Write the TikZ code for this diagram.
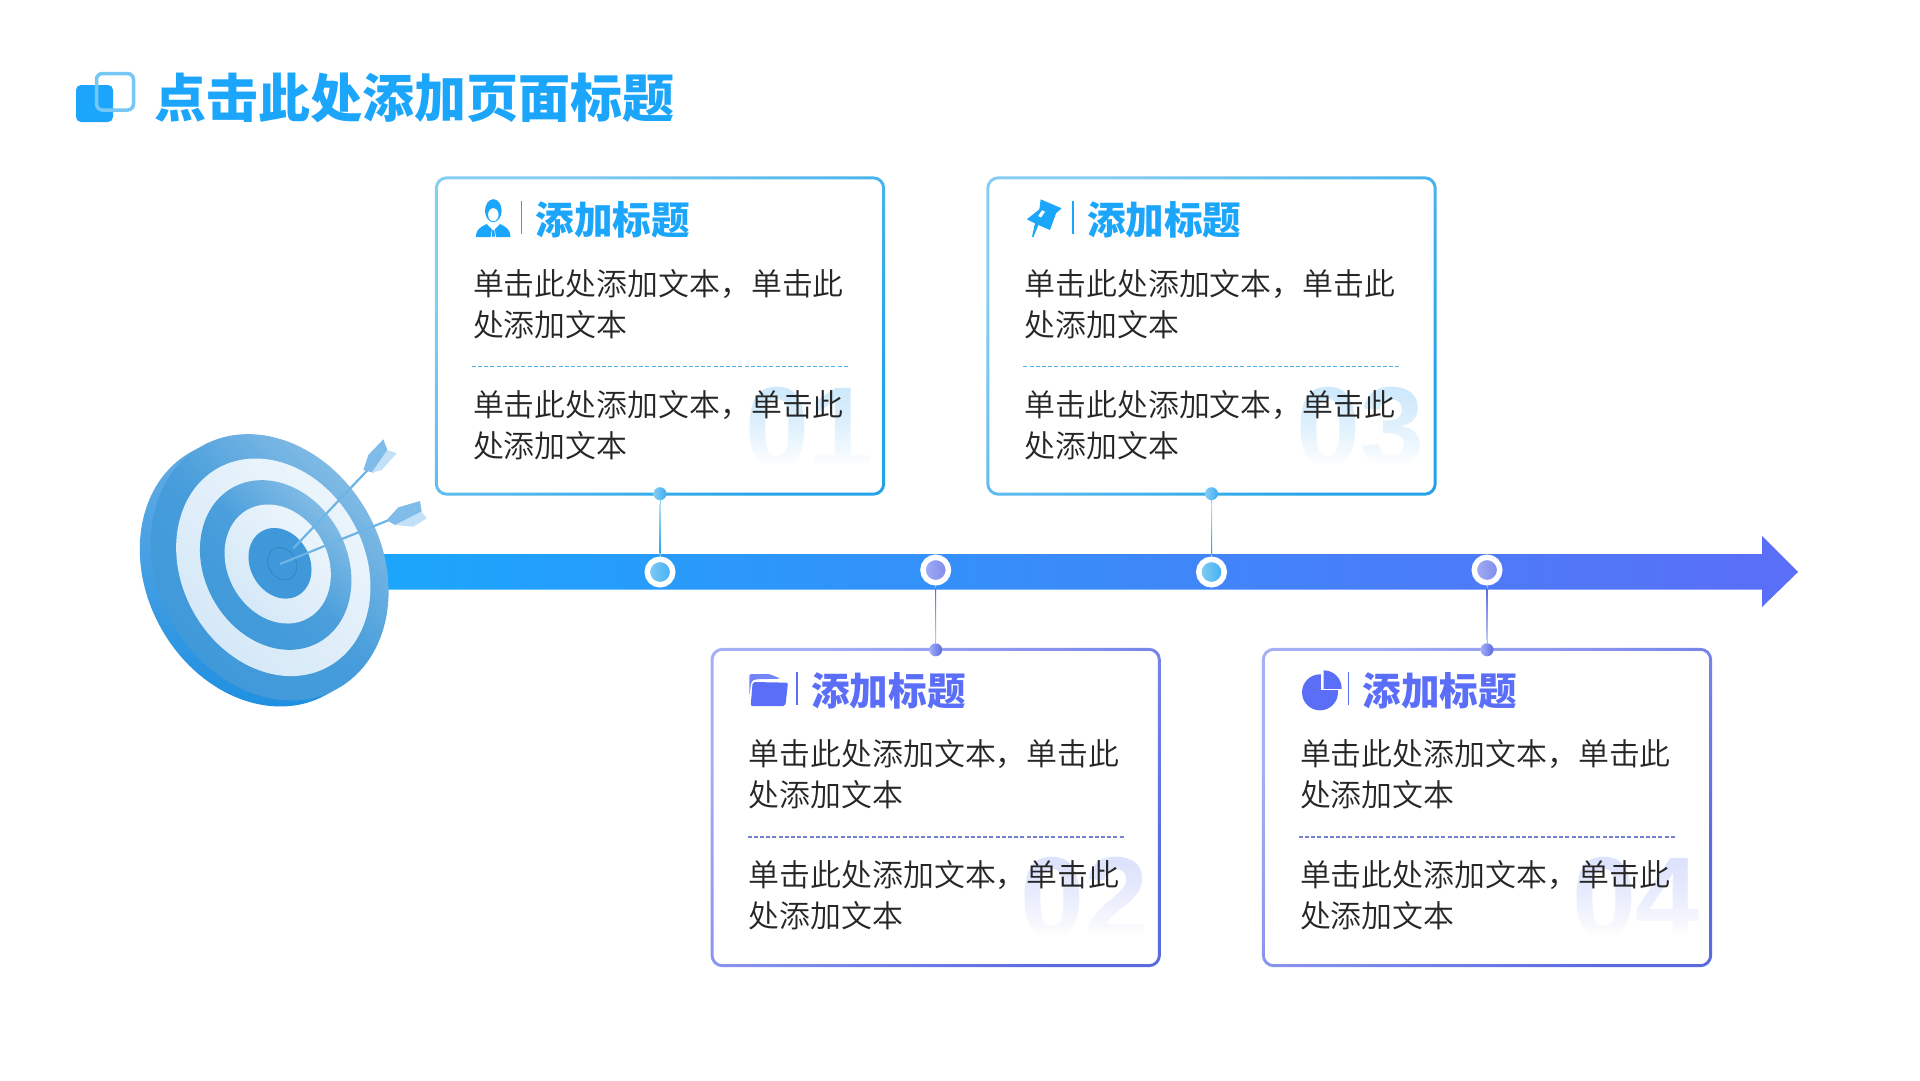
\documentclass[tikz,border=0pt]{standalone}
\usepackage{fontspec}
\usetikzlibrary{calc}
\newfontfamily\cjkreg{Noto Sans CJK SC DemiLight}
\newfontfamily\cjkheavy{Noto Sans CJK SC Black}
\newfontfamily\numfont{Liberation Sans}
\definecolor{mainbl}{HTML}{1BA6FB}
\definecolor{mainpu}{HTML}{5B6EF8}
\definecolor{lightbl}{HTML}{86CDF2}
\definecolor{darkbl}{HTML}{22A3E8}
\definecolor{midbl}{HTML}{3FAEF5}
\definecolor{lightpu}{HTML}{A6AEF6}
\definecolor{darkpu}{HTML}{5A6BE0}
\definecolor{dashbl}{HTML}{4FAEE2}
\definecolor{dashpu}{HTML}{7580D0}
\definecolor{numbl}{HTML}{CDE9FC}
\definecolor{numpu}{HTML}{DDE2FD}
\definecolor{bodyc}{HTML}{262626}
\definecolor{tbA}{HTML}{8EC2E8}
\definecolor{tbB}{HTML}{3E98D9}
\definecolor{twA}{HTML}{EEF6FC}
\definecolor{twB}{HTML}{D3E7F7}
\definecolor{sideA}{HTML}{6AAEE3}
\definecolor{sideM}{HTML}{E5F3FC}
\definecolor{sideB}{HTML}{1B8EE2}
\definecolor{arrowA}{HTML}{6CB4E6}
\definecolor{arrowV}{HTML}{80BCE9}
\definecolor{arrowB}{HTML}{C3E1F6}
\tikzset{
  cardbox/.style={rectangle,rounded corners=12pt,fill=white,minimum width=450pt,minimum height=319pt,inner sep=0pt},
  bodytext/.style={font=\fontsize{30.9}{41}\selectfont\cjkreg,anchor=west,align=left,inner sep=0pt,text=bodyc},
  headtext/.style={font=\fontsize{38.6}{40}\selectfont\cjkheavy,anchor=west,inner sep=0pt},
  numtext/.style={font=\fontsize{115}{115}\selectfont\numfont\bfseries,anchor=base west,inner sep=0pt},
  dotnode/.style={circle,inner sep=0pt,minimum size=13pt,shading angle=45},
  ringnode/.style={circle,inner sep=0pt,minimum size=25.5pt,draw=white,line width=5.5pt,shading angle=45},
  targetface/.style={x radius=#1*139pt,y radius=#1*112pt,rotate=-61}
}
\def\txtdy{0}
% name, cx, cy, light, dark, main, number, dash, number colour
\newcommand{\cardpanel}[9]{
  \node[cardbox] (#1) at (#2,#3) {};
  \node[numtext,text=#9] (#1num) at ($(#1.north west)+(310,291+\txtdy)$) {#7};
  \foreach \k in {0,...,29}{
    \pgfmathsetmacro{\op}{min(1,((\k+1)/28)^1.5)}
    \fill[white,opacity=\op] ($(#1.north west)+(300,207+\txtdy+3*\k)$) rectangle ($(#1.north west)+(438,210+\txtdy+3*\k)$);
  }
  \path[even odd rule,left color=#4,right color=#5,shading angle=45]
    [rounded corners=12pt] (#1.north west) rectangle (#1.south east)
    [rounded corners=9pt] ($(#1.north west)+(3,3)$) rectangle ($(#1.south east)+(-3,-3)$);
  \node[headtext,text=#6] (#1hd) at ($(#1.north west)+(100.5,44+\txtdy)$) {添加标题};
  \draw[#6,line width=1.6pt] ($(#1.north west)+(86.7,25+\txtdy)$) -- ($(#1.north west)+(86.7,58+\txtdy)$);
  \node[bodytext] (#1ta) at ($(#1.north west)+(38,128+\txtdy)$) {单击此处添加文本，单击此\\处添加文本};
  \draw[#8,line width=1.1pt,dash pattern=on 4pt off 2.2pt] ($(#1.north west)+(37,190.5+\txtdy)$) -- ($(#1.north west)+(413,190.5+\txtdy)$);
  \node[bodytext] (#1tb) at ($(#1.north west)+(38,249+\txtdy)$) {单击此处添加文本，单击此\\处添加文本};
}
\begin{document}
\begin{tikzpicture}[x=1pt,y=-1pt]
\useasboundingbox (0,0) rectangle (1920,1080);
\fill[white] (0,0) rectangle (1920,1080);

% title
\fill[mainbl,rounded corners=5pt] (76,85) rectangle (113,122);
\draw[color=lightbl!85!mainbl,line width=3.5pt,rounded corners=6pt] (96.5,73.5) rectangle (133.5,110);
\node[font=\fontsize{52}{54}\selectfont\cjkheavy,text=mainbl,anchor=west,inner sep=0pt] (title) at (154,98) {点击此处添加页面标题};

% timeline arrow
\path[left color=mainbl,right color=mainpu] (380,554) -- (1762,554) -- (1762,536) -- (1798,572) -- (1762,607) -- (1762,589.5) -- (380,589.5) -- cycle;

% cards
\cardpanel{ca}{660}{336}{lightbl}{darkbl}{mainbl}{01}{dashbl}{numbl}
\cardpanel{cc}{1211.5}{336}{lightbl}{darkbl}{mainbl}{03}{dashbl}{numbl}
\def\txtdy{-1.3}
\cardpanel{cb}{935.7}{807.5}{lightpu}{darkpu}{mainpu}{02}{dashpu}{numpu}
\cardpanel{cd}{1487}{807.5}{lightpu}{darkpu}{mainpu}{04}{dashpu}{numpu}

% timeline markers
\node[ringnode,left color=lightbl,right color=midbl] (ra) at (660,572) {};
\node[ringnode,left color=lightpu,right color=lightpu!45!darkpu] (rb) at (935.7,570) {};
\node[ringnode,left color=lightbl,right color=midbl] (rc) at (1211.5,572) {};
\node[ringnode,left color=lightpu,right color=lightpu!45!darkpu] (rd) at (1487,570) {};
\node[dotnode,left color=lightbl,right color=midbl] (da) at ($(ca.south)+(0,-2)$) {};
\node[dotnode,left color=lightpu,right color=darkpu] (db) at ($(cb.north)+(0,2)$) {};
\node[dotnode,left color=lightbl,right color=midbl] (dc) at ($(cc.south)+(0,-2)$) {};
\node[dotnode,left color=lightpu,right color=darkpu] (dd) at ($(cd.north)+(0,2)$) {};

% connectors
\draw[lightbl,line width=.8pt] (da.south) -- (ra.north);
\draw[lightbl,line width=.8pt] (dc.south) -- (rc.north);
\draw[lightpu,line width=.8pt] (db.north) -- (rb.south);
\draw[lightpu,line width=.8pt] (dd.north) -- (rd.south);
\shade[top color=white!40!lightbl,bottom color=darkbl] ($(da.south)+(-.5,3)$) rectangle ($(ra.north)+(.5,-3)$);
\shade[top color=white!40!lightbl,bottom color=darkbl] ($(dc.south)+(-.5,3)$) rectangle ($(rc.north)+(.5,-3)$);
\shade[top color=darkpu,bottom color=white!30!lightpu] ($(rb.south)+(-.5,3)$) rectangle ($(db.north)+(.5,-3)$);
\shade[top color=darkpu,bottom color=white!30!lightpu] ($(rd.south)+(-.5,3)$) rectangle ($(dd.north)+(.5,-3)$);

% target
\path[top color=sideA,middle color=sideM,bottom color=sideB] (258.7,573.3) circle[targetface=1];
\path[left color=tbB,right color=tbA,middle color=tbB!88!tbA,shading angle=135] (269.7,567.3) circle[targetface=1];
\path[left color=twB,right color=twA,shading angle=135] (273.3,567.3) circle[targetface=.817];
\path[left color=tbB,right color=tbA,middle color=tbB!85!tbA,shading angle=135] (275.7,565) circle[targetface=.637];
\path[left color=twB,right color=twA,shading angle=135] (277.7,564) circle[targetface=.447];
\fill[tbB] (280,563.3) circle[targetface=.265];
\draw[tbB!88!black,line width=.8pt] (282.3,563.7) circle[targetface=.122];
\begin{scope}[shift={(120,420)},x=.33333pt,y=-.33333pt]
  \draw[arrowA,line width=2.2pt] (520,385) -- (745,148);
  \draw[arrowA,line width=2.2pt] (480,432) -- (812,298);
  \fill[arrowV] (730,150) -- (745,105) -- (790,58) -- (802,90) -- (760,158) -- cycle;
  \fill[arrowB] (802,90) -- (830,100) -- (785,150) -- (755,158) -- cycle;
  \fill[arrowV] (800,300) -- (835,262) -- (900,243) -- (905,275) -- (825,315) -- cycle;
  \fill[arrowB] (905,275) -- (920,295) -- (880,320) -- (825,315) -- cycle;
\end{scope}

% icon: person
\begin{scope}[shift={(430,170)},x=.33333pt,y=-.33333pt]
  \fill[mainbl] (190,122) circle[x radius=8.3pt,y radius=11.5pt];
  \fill[white] (190,134) circle[x radius=5.2pt,y radius=6.5pt];
  \fill[mainbl] (138,201) .. controls (138,178) and (150,172) .. (170,162) -- (190,182) -- (210,162) .. controls (230,172) and (241,178) .. (241,201) -- cycle;
  \fill[white] (186,178) -- (194,178) -- (198,201) -- (182,201) -- cycle;
  \fill[mainbl] (187,180) -- (193,180) -- (195,200) -- (185,200) -- cycle;
\end{scope}
% icon: pin
\begin{scope}[shift={(1010,180)},x=.33333pt,y=-.33333pt]
  \fill[mainbl,even odd rule] (92,58) -- (155,85) -- (138,100) -- (120,150) -- (85,135) -- (70,172) -- (66,170) -- (75,130) -- (50,118) -- (68,104) -- (88,88) -- cycle
    (96,90) -- (106,95) -- (93,113) -- (84,108) -- cycle;
\end{scope}
% icon: folder
\begin{scope}[shift={(730,660)},x=.33333pt,y=-.33333pt]
  \fill[mainpu!85!white,rounded corners=1.5pt] (58,108) -- (58,42) -- (118,42) -- (152,56) -- (75,58) -- (64,65) -- cycle;
  \fill[mainpu,rounded corners=2pt] (68,66) -- (174,68) -- (166,138) -- (62,138) -- cycle;
\end{scope}
% icon: pie
\begin{scope}[shift={(1280,660)},x=.33333pt,y=-.33333pt]
  \fill[mainpu] (120,97) circle[radius=18pt];
  \fill[white] (124,30) rectangle (190,91);
  \begin{scope}
    \clip (131,85) rectangle (190,25);
    \fill[mainpu] (131,85) circle[radius=18pt];
  \end{scope}
\end{scope}
\end{tikzpicture}
\end{document}
